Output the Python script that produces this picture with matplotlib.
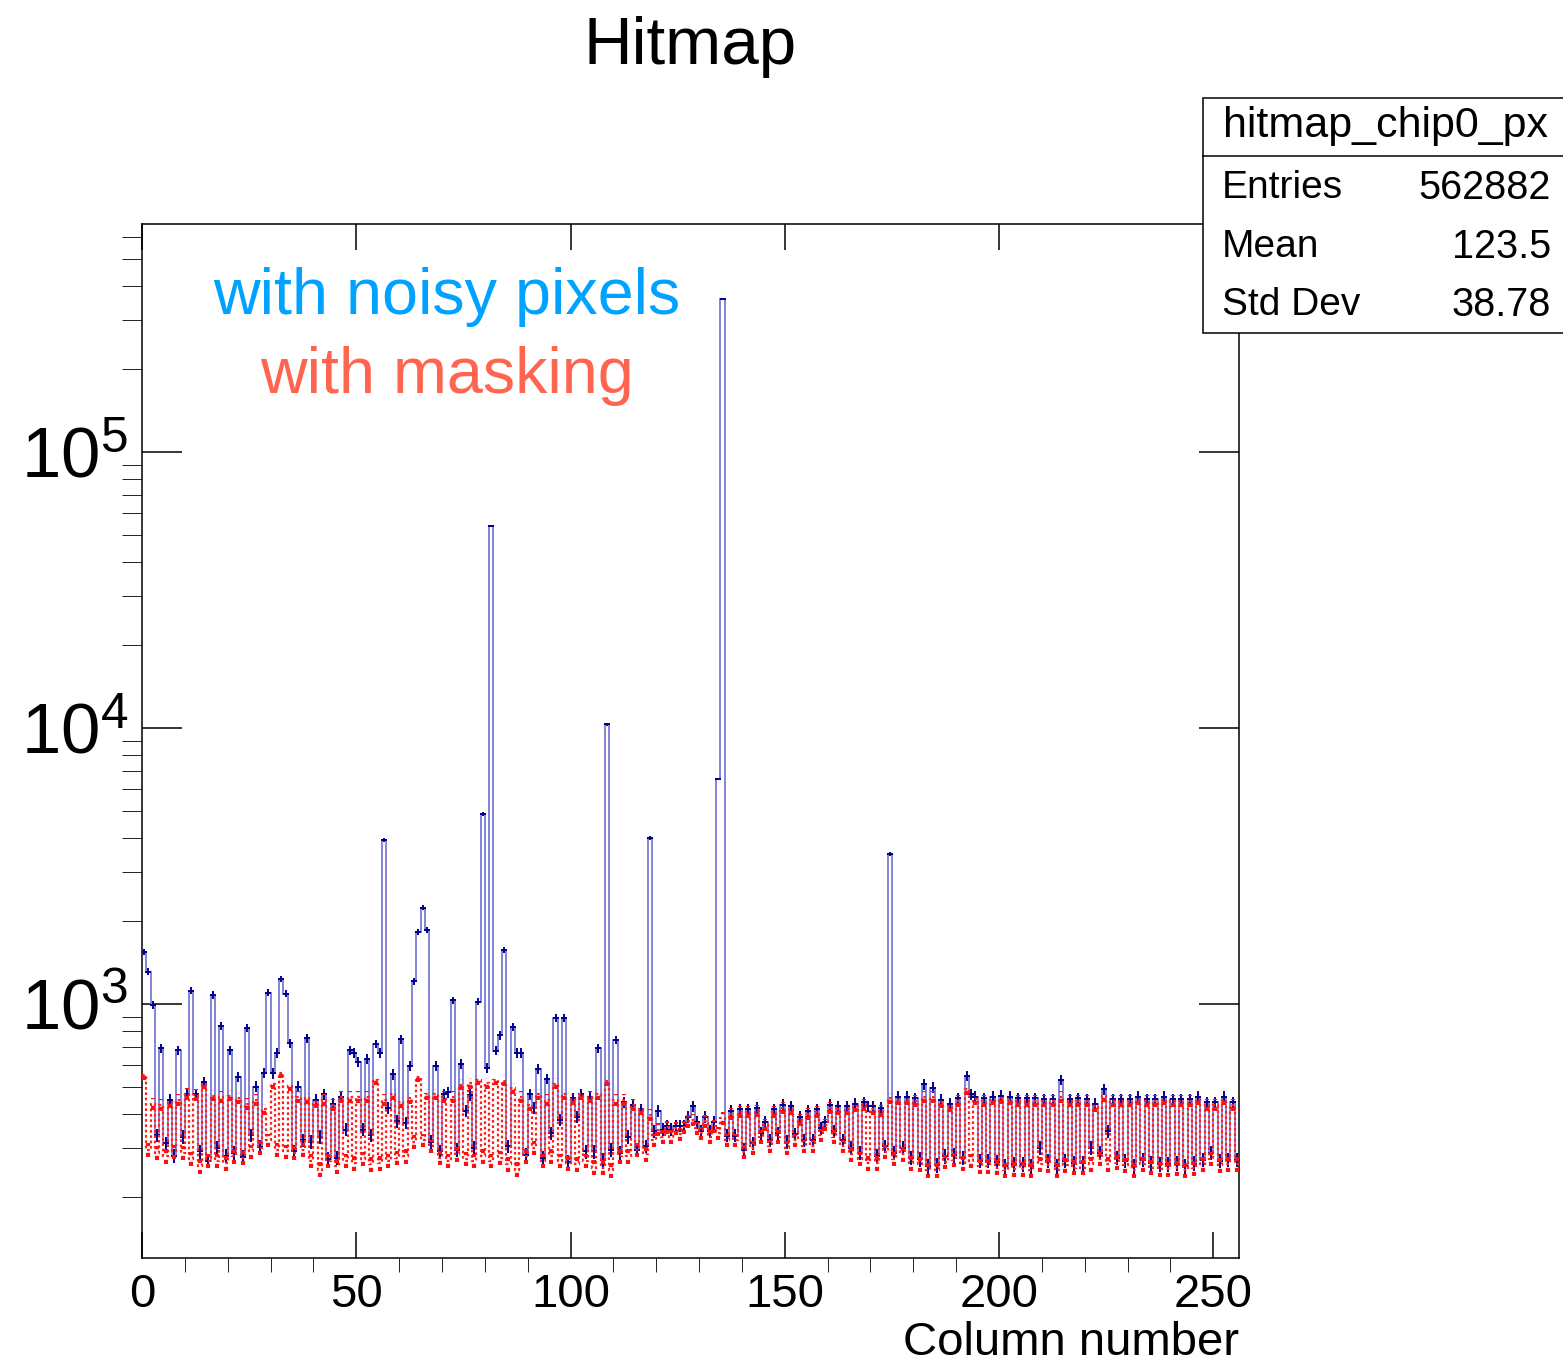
import numpy as np
import matplotlib
matplotlib.use("Agg")
import matplotlib.pyplot as plt
from matplotlib.patches import Rectangle
from matplotlib.lines import Line2D
from matplotlib.ticker import FixedLocator, FixedFormatter, MultipleLocator, LogLocator, NullFormatter

plt.rcParams['font.family'] = ['Liberation Sans', 'DejaVu Sans']
plt.rcParams['mathtext.default'] = 'regular'

# hits per column, chip 0
with_noisy = [
    1540, 1310, 990, 335, 692, 313, 449, 282, 680, 330,
    470, 1117, 470, 292, 519, 270, 1078, 301, 832, 282,
    680, 288, 545, 279, 818, 335, 501, 304, 562, 1099,
    560, 664, 1232, 1090, 719, 292, 501, 320, 750, 317,
    449, 330, 470, 275, 435, 277, 460, 350, 680, 665,
    615, 350, 632, 335, 716, 665, 3930, 420, 555, 375,
    745, 370, 595, 1210, 1820, 2230, 1850, 317, 595, 292,
    470, 478, 1030, 295, 605, 410, 468, 300, 1020, 4870,
    585, 54000, 677, 770, 1570, 305, 825, 665, 665, 283,
    470, 420, 580, 277, 535, 340, 889, 380, 889, 268,
    455, 390, 470, 292, 460, 292, 692, 272, 10300, 296,
    740, 288, 440, 330, 430, 296, 415, 305, 3990, 345,
    410, 350, 362, 350, 362, 362, 362, 390, 425, 372,
    345, 390, 345, 372, 6530, 358000, 333, 410, 333, 415,
    296, 415, 313, 420, 340, 372, 320, 415, 340, 430,
    317, 425, 337, 390, 320, 410, 320, 415, 355, 372,
    430, 345, 425, 320, 425, 300, 435, 288, 440, 425,
    425, 280, 420, 305, 3490, 288, 460, 300, 460, 277,
    455, 273, 512, 258, 497, 260, 449, 280, 435, 283,
    455, 277, 550, 470, 460, 270, 455, 270, 460, 268,
    465, 258, 460, 262, 455, 262, 455, 258, 455, 300,
    452, 270, 452, 258, 530, 270, 452, 265, 455, 265,
    452, 300, 435, 288, 490, 345, 452, 277, 452, 270,
    452, 258, 460, 272, 452, 265, 452, 262, 460, 262,
    452, 264, 452, 258, 452, 264, 460, 272, 440, 288,
    440, 270, 460, 272, 440, 272,
]

with_masking = [
    553, 296, 435, 288, 430, 280, 440, 292, 449, 288,
    472, 275, 468, 258, 514, 270, 465, 270, 460, 265,
    465, 280, 455, 277, 435, 292, 449, 300, 415, 320,
    514, 296, 562, 292, 505, 288, 460, 296, 455, 270,
    440, 251, 449, 270, 430, 258, 460, 270, 460, 265,
    460, 275, 460, 262, 530, 265, 449, 270, 470, 277,
    440, 280, 455, 317, 545, 320, 470, 305, 470, 277,
    460, 270, 460, 285, 510, 275, 515, 270, 530, 280,
    515, 270, 530, 277, 525, 262, 495, 251, 460, 280,
    430, 300, 470, 270, 449, 280, 514, 270, 470, 265,
    452, 262, 470, 270, 460, 255, 470, 255, 525, 250,
    449, 280, 449, 280, 430, 296, 415, 285, 395, 320,
    350, 330, 358, 330, 355, 337, 358, 375, 380, 355,
    340, 375, 330, 360, 340, 385, 320, 400, 320, 405,
    290, 405, 300, 410, 330, 365, 305, 405, 330, 420,
    300, 415, 320, 380, 305, 400, 305, 405, 335, 365,
    420, 330, 415, 305, 415, 285, 425, 275, 430, 265,
    415, 265, 410, 290, 455, 275, 450, 285, 450, 265,
    445, 262, 460, 250, 460, 250, 440, 268, 425, 272,
    445, 265, 490, 270, 452, 258, 445, 258, 450, 255,
    455, 250, 450, 252, 445, 252, 445, 250, 445, 262,
    445, 260, 445, 250, 460, 260, 445, 255, 445, 255,
    445, 262, 425, 275, 462, 262, 445, 266, 445, 260,
    445, 250, 450, 262, 445, 255, 445, 252, 450, 252,
    445, 254, 445, 250, 445, 254, 450, 262, 430, 275,
    430, 260, 450, 262, 430, 262,
]

stats_name = "hitmap_chip0_px"
stats_rows = [("Entries", "562882"), ("Mean", "123.5"), ("Std Dev", "38.78")]

W, H = 1563, 1366
fig = plt.figure(figsize=(W / 100, H / 100), dpi=100)
ax = fig.add_axes([142 / W, 1 - 1258 / H, 1097 / W, 1034 / H])

blue = np.array(with_noisy, dtype=float)
red = np.array(with_masking, dtype=float)
edges = np.arange(len(blue) + 1)
centers = edges[:-1] + 0.5

ax.stairs(blue, edges, color='#8484d8', lw=1.4, baseline=None, zorder=2)
ax.errorbar(centers, blue, yerr=np.sqrt(blue), fmt='_', color='#000090',
            ecolor='#000090', elinewidth=1.4, markersize=4, mew=1.4, zorder=3)

ax.stairs(red, edges, color='#ff2020', lw=1.6, ls=(0, (1.2, 1.2)), baseline=None, zorder=4)
eb = ax.errorbar(centers, red, yerr=np.sqrt(red), fmt='none', ecolor='#ff1010',
                 elinewidth=3, zorder=5)
for lc in eb[2]:
    lc.set_linestyle((0, (1, 1.6)))

ax.set_yscale('log')
ax.set_xlim(0, 256)
ax.set_ylim(120, 6.7e5)

ax.xaxis.set_major_locator(FixedLocator([0, 50, 100, 150, 200, 250]))
ax.xaxis.set_minor_locator(MultipleLocator(10))
ax.yaxis.set_major_locator(FixedLocator([1e3, 1e4, 1e5]))
ax.yaxis.set_major_formatter(FixedFormatter([r'$10^{3}$', r'$10^{4}$', r'$10^{5}$']))
ax.yaxis.set_minor_locator(LogLocator(base=10, subs=np.arange(2, 10)))
ax.yaxis.set_minor_formatter(NullFormatter())

ax.tick_params(direction='in', top=True, right=True, width=1.1, colors='black')
ax.tick_params(axis='x', which='major', length=19, labelsize=34, pad=11)
ax.tick_params(axis='x', which='minor', length=10)
ax.tick_params(axis='y', which='major', length=29, labelsize=51, pad=10)
ax.tick_params(axis='y', which='minor', length=14.5)
for s in ax.spines.values():
    s.set_linewidth(1.1)

fig.text(690 / W, 1 - 47 / H, "Hitmap", fontsize=48.5, ha='center', va='center')
fig.text(1239 / W, 1 - 1343 / H, "Column number", fontsize=34, ha='right', va='center')
fig.text(447 / W, 1 - 297 / H, "with noisy pixels", fontsize=46.5, color='#00a2ff',
         ha='center', va='center')
fig.text(447 / W, 1 - 376 / H, "with masking", fontsize=46.5, color='#ff6450',
         ha='center', va='center')

# stats box
bx0, by0, by1 = 1203, 98, 333
fig.add_artist(Rectangle((bx0 / W, 1 - by1 / H), (W - bx0 + 10) / W, (by1 - by0) / H,
                         transform=fig.transFigure, facecolor='white',
                         edgecolor='black', lw=1.1, zorder=10))
fig.add_artist(Line2D([bx0 / W, 1.0], [1 - 156 / H, 1 - 156 / H],
                      transform=fig.transFigure, color='black', lw=1.1, zorder=11))
fig.text(1385 / W, 1 - 126 / H, stats_name, fontsize=31, ha='center', va='center', zorder=12)
for (lab, val), yy in zip(stats_rows, [188, 247, 305]):
    fig.text(1222 / W, 1 - yy / H, lab, fontsize=28, ha='left', va='center', zorder=12)
    fig.text(1551 / W, 1 - yy / H, val, fontsize=28.5, ha='right', va='center', zorder=12)

fig.savefig("out.png", dpi=100)
